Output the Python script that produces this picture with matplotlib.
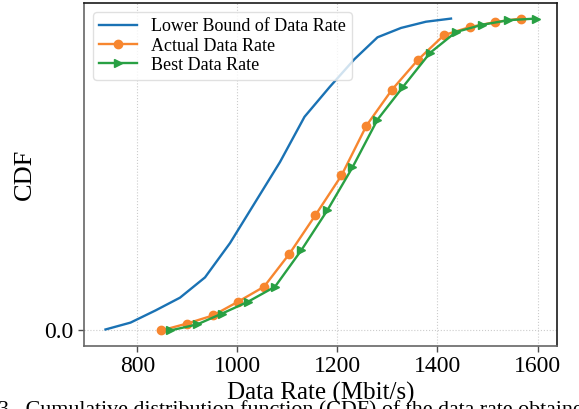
import matplotlib
matplotlib.use("Agg")
import matplotlib.pyplot as plt

# ---- data ----
lower_x = [736, 786, 836, 885, 935, 985, 1035, 1085, 1134, 1184, 1234, 1280, 1327, 1377, 1427]
lower_y = [0.003, 0.025, 0.064, 0.105, 0.17, 0.28, 0.41, 0.54, 0.685, 0.78, 0.87, 0.94, 0.97, 0.99, 1.0]

actual_x = [848, 899, 951, 1001, 1053, 1104, 1156, 1208, 1258, 1309, 1361, 1413, 1465, 1516, 1566]
actual_y = [0.0, 0.022, 0.048, 0.092, 0.14, 0.246, 0.37, 0.497, 0.657, 0.772, 0.868, 0.947, 0.973, 0.989, 1.0]

best_x = [866, 919, 969, 1021, 1075, 1128, 1180, 1230, 1280, 1331, 1385, 1437, 1489, 1542, 1596]
best_y = [0.0, 0.019, 0.054, 0.092, 0.14, 0.258, 0.386, 0.523, 0.676, 0.781, 0.89, 0.957, 0.98, 0.995, 1.0]

x_ticks = [800, 1000, 1200, 1400, 1600]
y_ticks = [0.0]
y_tick_labels = ["0.0"]

series_names = ["Lower Bound of Data Rate", "Actual Data Rate", "Best Data Rate"]
x_label = "Data Rate (Mbit/s)"
y_label = "CDF"
caption = "3.  Cumulative distribution function (CDF) of the data rate obtained"

plt.rcParams['font.family'] = ['Liberation Serif', 'DejaVu Serif']

fig = plt.figure(figsize=(5.79, 4.09), dpi=100)
ax = fig.add_axes([84/579, 1-346/409, (557-84)/579, (346-3)/409])

ax.plot(lower_x, lower_y, color='#1a72b4', lw=1.7, label=series_names[0])
ax.plot(actual_x, actual_y, color='#f7862f', lw=1.7, marker='o', ms=6, label=series_names[1])
ax.plot(best_x, best_y, color='#28a043', lw=1.7, marker='>', ms=6, label=series_names[2])

ax.set_xticks(x_ticks)
ax.set_yticks(y_ticks)
ax.set_yticklabels(y_tick_labels)
ax.tick_params(axis='both', labelsize=17, length=4, width=1, color='0.3')
ax.grid(True, color='0.8', linestyle=':', linewidth=0.8)
ax.set_axisbelow(True)

for s in ['left', 'bottom']:
    ax.spines[s].set_color('0.4')
    ax.spines[s].set_linewidth(1.2)
for s in ['top', 'right']:
    ax.spines[s].set_color('0.1')
    ax.spines[s].set_linewidth(1.2)

ax.set_xlabel(x_label, fontsize=18, labelpad=3)
ax.set_ylabel(y_label, fontsize=19, labelpad=6)

leg = ax.legend(loc='upper left', fontsize=13, frameon=True, fancybox=True,
                edgecolor='0.85', framealpha=0.8, borderaxespad=0.5,
                handlelength=2.1, handletextpad=0.75, labelspacing=0.12, borderpad=0.35)

fig.text(-0.003, -0.028, caption, fontsize=15.8, ha='left', va='bottom')

fig.savefig("out.png", dpi=100)
